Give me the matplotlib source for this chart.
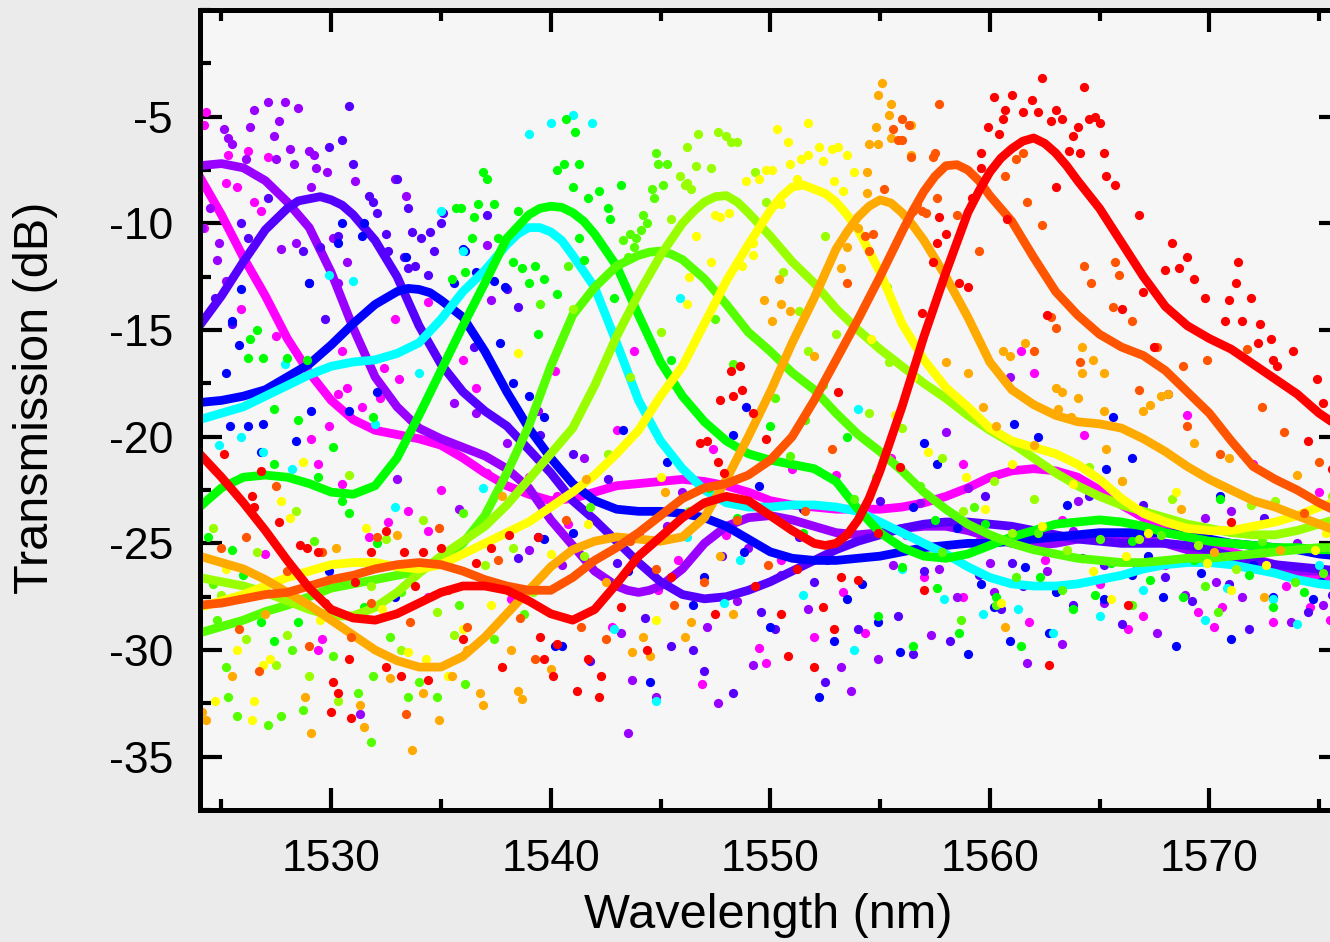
import numpy as np
import matplotlib
matplotlib.use('Agg')
import matplotlib.pyplot as plt
from matplotlib.ticker import MultipleLocator

plt.rcParams['font.family'] = ['Liberation Sans', 'DejaVu Sans']
plt.rcParams['axes.unicode_minus'] = False

# wavelength grid of the smoothed curves (nm)
wl = list(range(1524, 1577))

# smoothed transmission curves (dB), one value per nm
magenta = [-7.8, -9.6, -11.6, -13.4, -15.4, -17.0, -18.3, -19.2, -19.7, -19.9,
           -20.1, -20.4, -21.0, -21.7, -22.3, -22.7, -23.0, -22.9, -22.6, -22.3,
           -22.2, -22.1, -22.0, -22.1, -22.3, -22.6, -23.0, -23.2, -23.3, -23.4,
           -23.4, -23.4, -23.3, -23.1, -22.8, -22.4, -21.9, -21.6, -21.5, -21.6,
           -21.9, -22.5, -23.2, -23.8, -24.3, -24.7, -25.1, -25.4, -25.7, -26.0,
           -26.3, -26.6, -26.8]
violet = [-7.3, -7.2, -7.4, -8.0, -9.0, -10.2, -12.3, -14.9, -17.2, -18.6,
          -19.6, -20.1, -20.5, -20.9, -21.5, -22.4, -23.9, -25.1, -26.3, -27.0,
          -27.3, -27.0, -26.2, -25.0, -24.2, -23.8, -23.7, -23.9, -24.2, -24.5,
          -24.6, -24.5, -24.3, -24.2, -24.2, -24.4, -24.7, -25.0, -25.1, -25.0,
          -24.8, -24.7, -24.7, -24.8, -25.0, -25.3, -25.6, -25.9, -26.1, -26.2,
          -26.3, -26.3, -26.3]
indigo = [-14.8, -13.4, -11.8, -10.3, -9.3, -8.85, -8.9, -9.6, -10.8, -12.5,
          -14.8, -16.6, -17.9, -18.8, -19.5, -20.6, -21.7, -23.0, -23.9, -24.9,
          -25.9, -26.8, -27.4, -27.6, -27.5, -27.2, -26.8, -26.3, -25.8, -25.3,
          -24.9, -24.6, -24.3, -24.1, -24.0, -24.0, -24.1, -24.2, -24.4, -24.6,
          -24.8, -24.9, -25.0, -25.0, -25.0, -25.1, -25.3, -25.6, -25.8, -26.0,
          -26.1, -26.2, -26.3]
blue = [-18.4, -18.3, -18.1, -17.8, -17.2, -16.6, -15.7, -14.7, -13.8, -13.2,
        -13.1, -13.6, -14.4, -16.0, -17.9, -19.6, -21.0, -22.2, -23.0, -23.4,
        -23.5, -23.5, -23.6, -23.8, -24.2, -24.8, -25.4, -25.7, -25.8, -25.8,
        -25.7, -25.6, -25.4, -25.2, -25.1, -25.0, -25.0, -24.9, -24.8, -24.7,
        -24.6, -24.5, -24.5, -24.5, -24.5, -24.6, -24.8, -25.0, -25.1, -25.2,
        -25.3, -25.5, -25.6]
cyan = [-19.2, -18.9, -18.6, -18.1, -17.6, -17.1, -16.7, -16.5, -16.4, -16.1,
        -15.6, -14.5, -13.2, -12.2, -11.0, -10.2, -10.4, -11.5, -13.0, -15.6,
        -18.3, -20.2, -21.5, -22.5, -23.1, -23.3, -23.3, -23.2, -23.2, -23.3,
        -23.5, -24.0, -24.5, -25.0, -25.5, -26.1, -26.6, -26.9, -27.0, -27.0,
        -26.9, -26.7, -26.5, -26.2, -26.0, -25.9, -25.9, -26.0, -26.2, -26.4,
        -26.7, -26.9, -27.0]
green = [-23.3, -22.4, -21.9, -21.8, -21.9, -22.2, -22.6, -22.7, -22.3, -21.0,
         -19.0, -16.9, -14.8, -12.8, -10.7, -9.6, -9.2, -9.5, -10.5, -12.0,
         -14.3, -16.5, -18.1, -19.3, -20.2, -20.8, -21.1, -21.3, -21.5, -22.1,
         -23.4, -24.5, -25.2, -25.6, -25.7, -25.5, -25.1, -24.7, -24.4, -24.1,
         -24.0, -23.9, -24.0, -24.2, -24.5, -24.7, -24.9, -25.0, -25.1, -25.2,
         -25.2, -25.3, -25.3]
lime = [-29.2, -28.9, -28.6, -28.2, -27.9, -27.5, -27.1, -26.9, -26.7, -26.5,
        -26.3, -25.8, -25.0, -23.7, -21.7, -19.5, -16.7, -14.3, -13.0, -12.0,
        -11.5, -11.3, -11.7, -12.6, -13.8, -15.1, -16.0, -17.0, -17.8, -18.9,
        -19.9, -20.7, -21.6, -22.6, -23.4, -24.1, -24.6, -25.0, -25.3, -25.5,
        -25.7, -25.8, -25.9, -25.9, -25.8, -25.7, -25.7, -25.6, -25.5, -25.4,
        -25.3, -25.2, -25.2]
yellowgreen = [-26.6, -26.8, -27.0, -27.3, -27.7, -28.1, -28.4, -28.4, -28.0, -27.3,
               -26.4, -25.6, -24.9, -24.2, -23.2, -22.0, -20.8, -19.6, -17.6, -15.3,
               -13.3, -11.5, -10.0, -9.0, -8.7, -9.5, -10.6, -11.8, -12.8, -14.0,
               -15.0, -15.9, -16.7, -17.5, -18.2, -19.0, -19.7, -20.3, -21.0, -21.7,
               -22.3, -22.8, -23.2, -23.5, -23.8, -24.1, -24.3, -24.5, -24.6, -24.6,
               -24.4, -24.1, -23.8]
yellow = [-28.0, -27.7, -27.4, -27.0, -26.6, -26.3, -26.0, -25.9, -25.9, -26.1,
          -26.2, -26.0, -25.5, -25.0, -24.5, -24.0, -23.3, -22.6, -21.8, -20.8,
          -19.7, -18.1, -16.7, -14.7, -12.7, -11.0, -9.4, -8.3, -8.4, -9.0,
          -10.3, -12.3, -14.7, -16.4, -17.7, -18.6, -19.6, -20.2, -20.5, -20.8,
          -21.3, -22.0, -22.9, -23.6, -24.0, -24.3, -24.4, -24.4, -24.2, -24.0,
          -23.7, -23.3, -23.0]
orange = [-25.6, -25.9, -26.2, -26.7, -27.3, -27.9, -28.6, -29.3, -30.0, -30.5,
          -30.8, -30.8, -30.3, -29.4, -28.3, -27.2, -26.1, -25.3, -24.9, -24.7,
          -24.8, -24.9, -24.7, -23.8, -22.0, -20.0, -17.9, -15.6, -13.5, -11.2,
          -9.7, -8.9, -9.5, -10.8, -12.5, -14.4, -16.5, -17.8, -18.5, -19.0,
          -19.3, -19.4, -19.6, -20.1, -20.7, -21.4, -22.0, -22.5, -23.0, -23.3,
          -23.7, -24.1, -24.5]
darkorange = [-27.9, -27.8, -27.6, -27.4, -27.3, -27.0, -26.7, -26.5, -26.2, -26.0,
              -25.9, -26.0, -26.3, -26.7, -27.0, -27.2, -27.2, -26.6, -25.8, -25.2,
              -24.5, -23.7, -22.9, -22.4, -22.2, -21.8, -21.1, -20.0, -18.3, -16.4,
              -14.5, -12.5, -10.4, -8.5, -7.3, -7.5, -8.7, -9.9, -11.6, -13.2,
              -14.3, -15.2, -15.8, -16.2, -16.9, -17.9, -18.9, -20.2, -21.4, -22.0,
              -22.5, -23.1, -23.6]
red = [-20.8, -21.9, -23.1, -24.4, -25.8, -27.1, -28.1, -28.5, -28.6, -28.3,
       -27.8, -27.3, -27.0, -27.0, -27.2, -27.7, -28.3, -28.6, -28.1, -26.9,
       -25.6, -24.7, -23.8, -23.1, -22.8, -23.0, -23.7, -24.4, -25.0, -25.0,
       -23.9, -21.6, -18.6, -15.3, -12.3, -9.5, -7.6, -6.5, -6.0, -6.7,
       -8.0, -9.3, -10.9, -12.5, -13.9, -14.8, -15.4, -15.9, -16.6, -17.3,
       -18.0, -18.9, -19.6]

# extra half-nm readings around the peaks, where the curves bend fastest
magenta_fine = []
violet_fine = [(1543.5, -27.2), (1544.5, -27.2)]
indigo_fine = [(1528.5, -8.95), (1529.5, -8.75), (1530.5, -9.15)]
blue_fine = [(1533.5, -13.05), (1534.5, -13.25)]
cyan_fine = [(1538.5, -10.5), (1539.5, -10.2), (1540.5, -10.8)]
green_fine = [(1539.5, -9.3), (1540.5, -9.25), (1541.5, -9.9)]
lime_fine = [(1544.5, -11.35), (1545.5, -11.45)]
yellowgreen_fine = [(1546.5, -9.45), (1547.5, -8.75), (1548.5, -9.0)]
yellow_fine = [(1550.5, -8.75), (1551.5, -8.2), (1552.5, -8.6), (1553.5, -9.6)]
orange_fine = [(1553.5, -10.4), (1554.5, -9.2), (1555.5, -9.05), (1556.5, -10.1)]
darkorange_fine = [(1556.5, -9.4), (1557.5, -7.8), (1558.5, -7.25), (1559.5, -8.0), (1560.5, -9.3)]
red_fine = [(1552.5, -25.1), (1553.5, -24.6), (1554.5, -22.9), (1559.5, -8.5), (1560.5, -6.95),
            (1561.5, -6.15), (1562.5, -6.25), (1563.5, -7.3), (1564.5, -8.65)]

# raw measured points (wavelength nm, dB) that stand off the smoothed curves
magenta_pts = [(1524.3, -4.8), (1524.2, -5.4), (1525.3, -6.8), (1526.2, -6.6), (1527.1, -6.9),
               (1525.2, -8.1), (1525.7, -8.3), (1526.5, -9.0), (1526.8, -9.4), (1524.2, -10.2),
               (1525.9, -14.0), (1527.5, -15.3), (1532.9, -14.5), (1534.4, -13.7), (1530.5, -16.0),
               (1532.4, -16.8), (1533.1, -17.3), (1536.0, -16.4), (1536.6, -17.7), (1530.3, -18.0),
               (1530.7, -17.7), (1531.4, -18.6), (1532.2, -18.2), (1529.9, -19.5), (1529.1, -20.1),
               (1529.4, -21.3), (1530.5, -22.2), (1532.6, -24.0), (1531.7, -24.7), (1533.5, -23.5),
               (1534.4, -24.4), (1535.0, -22.5), (1537.1, -21.7), (1539.0, -21.9), (1540.2, -16.9),
               (1540.8, -24.1), (1543.8, -16.0), (1534.4, -27.5), (1529.6, -29.5), (1529.4, -30.0),
               (1543.0, -19.7), (1540.3, -22.8), (1547.4, -20.6), (1544.9, -27.2), (1542.8, -28.9),
               (1549.5, -29.9), (1552.0, -29.4), (1554.3, -29.2), (1553.3, -27.3), (1546.9, -31.6),
               (1549.8, -30.6), (1562.0, -17.0), (1561.4, -16.0), (1564.3, -19.9), (1558.8, -21.3),
               (1558.8, -27.5), (1561.8, -28.7), (1566.3, -29.0), (1567.0, -28.4), (1569.5, -28.2),
               (1570.6, -28.0), (1570.2, -28.9), (1572.9, -28.7), (1574.6, -28.0), (1569.0, -19.0),
               (1555.5, -21.0), (1551.0, -21.5), (1572.0, -21.3), (1575.0, -22.6), (1538.2, -27.6),
               (1545.8, -25.8), (1557.0, -26.6), (1556.2, -24.6), (1559.5, -24.9), (1562.5, -25.8),
               (1565.0, -26.9), (1568.0, -26.0), (1571.4, -25.9), (1573.5, -27.0), (1575.5, -28.6),
               (1548.0, -24.6), (1550.5, -25.8), (1544.0, -24.5), (1537.0, -24.0), (1527.0, -25.5),
               (1563.3, -23.9), (1553.0, -21.8)]
violet_pts = [(1527.1, -4.3), (1527.9, -4.3), (1526.5, -4.7), (1528.5, -4.6), (1526.3, -5.5),
              (1527.6, -5.2), (1525.1, -5.6), (1525.3, -6.0), (1525.5, -6.3), (1527.4, -5.9),
              (1528.1, -6.5), (1529.0, -6.6), (1529.2, -6.8), (1527.5, -7.0), (1528.3, -7.2),
              (1529.3, -7.4), (1529.8, -7.6), (1526.1, -7.0), (1529.1, -8.3), (1531.1, -8.0),
              (1524.5, -9.3), (1524.9, -10.9), (1524.8, -11.7), (1525.2, -12.7), (1527.7, -11.2),
              (1528.4, -10.9), (1529.5, -11.2), (1530.7, -11.8), (1530.3, -12.8), (1530.1, -10.7),
              (1537.1, -11.0), (1537.3, -13.6), (1533.4, -8.7), (1532.9, -7.9), (1524.1, -10.2),
              (1535.6, -18.4), (1536.6, -18.9), (1539.4, -18.8), (1538.0, -20.3), (1541.5, -21.0),
              (1543.2, -29.2), (1544.8, -32.2), (1547.1, -28.9), (1549.2, -30.7), (1551.7, -28.1),
              (1553.2, -30.8), (1553.7, -31.9), (1554.9, -30.4), (1557.3, -29.3), (1560.2, -27.3),
              (1561.7, -30.6), (1543.5, -33.9), (1543.7, -31.4), (1547.6, -32.5), (1560.9, -17.2),
              (1568.1, -18.0), (1558.0, -19.8), (1557.7, -26.2), (1567.6, -29.2), (1563.3, -29.7),
              (1573.7, -28.7), (1571.5, -27.5), (1565.2, -27.8), (1533.0, -22.0), (1546.0, -22.6),
              (1550.5, -26.5), (1555.6, -26.0), (1559.0, -22.4), (1564.0, -23.0), (1569.8, -23.8),
              (1575.2, -27.9), (1540.5, -26.0), (1531.3, -33.0), (1548.5, -27.7), (1556.8, -23.1),
              (1560.0, -25.9), (1562.6, -26.3), (1566.7, -26.1), (1568.9, -27.4), (1570.3, -26.8),
              (1574.0, -25.0), (1552.6, -25.8), (1549.0, -25.2), (1545.3, -24.2), (1539.0, -25.3),
              (1535.8, -23.4), (1558.5, -27.5), (1563.8, -24.4), (1571.0, -23.5)]
indigo_pts = [(1530.8, -4.5), (1529.9, -6.4), (1530.5, -6.1), (1530.3, -10.6), (1529.5, -11.1),
              (1528.7, -11.3), (1525.9, -10.0), (1526.2, -10.7), (1527.1, -8.8), (1531.0, -7.2),
              (1531.7, -8.7), (1531.9, -9.0), (1532.1, -9.5), (1533.0, -7.9), (1533.5, -9.3),
              (1532.5, -10.5), (1532.6, -11.3), (1533.3, -11.6), (1533.7, -10.4), (1534.1, -10.7),
              (1534.5, -10.4), (1535.0, -10.0), (1535.1, -9.5), (1534.7, -11.3), (1533.5, -12.1),
              (1533.8, -12.0), (1534.4, -12.4), (1529.0, -12.8), (1524.7, -13.5), (1525.5, -14.7),
              (1529.7, -14.5), (1537.1, -9.6), (1538.5, -13.9), (1538.0, -13.1), (1536.5, -15.8),
              (1539.5, -19.9), (1541.0, -20.8), (1542.6, -22.0), (1545.5, -29.8), (1547.0, -31.0),
              (1548.3, -32.0), (1550.2, -29.0), (1552.5, -31.5), (1555.8, -28.4), (1556.5, -30.2),
              (1558.2, -29.6), (1560.5, -28.1), (1563.8, -27.9), (1566.0, -28.8), (1569.2, -27.7),
              (1571.8, -29.0), (1574.5, -28.2), (1541.8, -30.5), (1538.5, -25.7), (1552.0, -26.8),
              (1559.5, -26.5), (1564.5, -22.8), (1567.0, -23.2), (1544.3, -28.5), (1549.6, -28.2),
              (1554.0, -29.0), (1561.5, -27.0), (1572.5, -23.8), (1546.5, -30.0), (1557.0, -26.3),
              (1561.0, -25.9), (1565.2, -26.0), (1568.0, -26.6), (1570.9, -26.9), (1573.3, -25.2),
              (1575.6, -27.4), (1551.3, -24.7), (1555.0, -23.0), (1559.8, -22.8), (1547.8, -25.6),
              (1543.0, -25.9)]
blue_pts = [(1530.5, -10.0), (1530.3, -10.9), (1531.4, -10.6), (1531.5, -10.0), (1533.4, -11.6),
            (1535.6, -12.8), (1536.0, -11.2), (1536.1, -11.3), (1529.0, -12.8), (1525.9, -13.1),
            (1525.5, -14.6), (1536.6, -12.3), (1537.4, -12.7), (1537.9, -13.0), (1525.2, -17.0),
            (1525.8, -15.7), (1525.4, -19.5), (1526.2, -19.5), (1526.9, -19.4), (1528.4, -20.2),
            (1526.8, -20.7), (1529.1, -18.8), (1530.8, -18.8), (1532.1, -17.9), (1537.7, -15.6),
            (1538.3, -17.5), (1539.7, -19.1), (1539.0, -18.1), (1539.4, -24.7), (1539.7, -24.8),
            (1529.9, -26.3), (1532.9, -27.5), (1540.2, -29.8), (1540.5, -29.8), (1543.3, -19.7),
            (1545.3, -21.2), (1548.3, -19.9), (1548.9, -18.6), (1549.5, -22.3), (1548.8, -25.4),
            (1550.0, -28.9), (1552.2, -32.2), (1552.9, -29.6), (1553.5, -27.6), (1554.9, -28.7),
            (1555.9, -30.1), (1557.0, -20.3), (1559.0, -30.2), (1560.9, -29.6), (1562.2, -20.0),
            (1561.1, -19.4), (1565.6, -19.1), (1565.3, -21.5), (1566.5, -21.0), (1557.6, -21.3),
            (1559.6, -26.9), (1560.2, -28.0), (1562.7, -29.2), (1565.2, -27.6), (1566.5, -26.5),
            (1567.9, -27.5), (1572.9, -27.5), (1574.7, -27.6), (1570.5, -22.8), (1563.5, -23.2),
            (1546.5, -27.9), (1541.0, -24.5), (1544.5, -31.5), (1571.0, -29.5), (1568.5, -29.8),
            (1556.5, -23.3), (1558.5, -24.3), (1561.6, -26.1), (1564.2, -25.7), (1567.2, -25.6),
            (1569.6, -26.4), (1572.0, -26.0), (1575.1, -26.8), (1551.5, -23.4), (1554.2, -26.9),
            (1547.0, -26.6), (1543.5, -26.3), (1563.0, -27.3)]
cyan_pts = [(1539.0, -5.8), (1540.0, -5.3), (1541.0, -4.9), (1541.9, -5.3), (1535.0, -9.4),
            (1536.0, -11.3), (1529.9, -12.4), (1531.0, -12.7), (1527.9, -16.6), (1525.9, -20.0),
            (1524.9, -20.4), (1526.9, -20.7), (1532.0, -19.4), (1532.9, -23.3), (1534.0, -17.0),
            (1536.9, -22.4), (1545.9, -13.5), (1554.0, -18.7), (1542.9, -29.0), (1544.8, -32.4),
            (1547.9, -27.8), (1553.8, -30.0), (1557.9, -27.6), (1562.9, -29.2), (1567.0, -27.2),
            (1572.9, -27.6), (1548.6, -25.8), (1569.8, -28.6), (1575.0, -26.0), (1559.7, -28.3),
            (1556.0, -26.2), (1561.3, -28.1), (1565.0, -28.4), (1570.8, -27.1), (1551.5, -27.4),
            (1546.2, -24.7), (1574.0, -28.8), (1533.8, -25.9), (1528.2, -21.5)]
green_pts = [(1540.7, -5.1), (1540.6, -7.2), (1540.3, -7.5), (1536.9, -7.6), (1537.1, -7.9),
             (1541.0, -8.3), (1535.7, -9.3), (1535.9, -9.3), (1536.7, -9.1), (1537.4, -9.1),
             (1536.5, -9.7), (1538.5, -9.4), (1536.4, -10.7), (1537.6, -10.7), (1538.3, -11.8),
             (1538.7, -12.1), (1539.0, -12.8), (1539.3, -12.0), (1539.7, -12.6), (1540.3, -13.3),
             (1536.1, -12.3), (1535.5, -12.6), (1539.4, -15.2), (1541.1, -5.7), (1541.3, -7.2),
             (1542.2, -8.5), (1541.7, -8.8), (1542.6, -9.3), (1542.7, -9.8), (1543.2, -8.2),
             (1541.3, -10.7), (1541.5, -11.7), (1542.9, -13.5), (1526.6, -15.0), (1526.3, -15.4),
             (1526.2, -16.3), (1526.9, -16.3), (1528.0, -16.3), (1528.9, -16.4), (1527.4, -18.7),
             (1528.5, -19.2), (1527.4, -21.3), (1529.4, -21.9), (1530.1, -20.5), (1531.9, -19.1),
             (1530.5, -23.0), (1530.8, -23.6), (1532.1, -25.0), (1524.4, -24.7), (1525.5, -25.3),
             (1526.8, -28.7), (1528.5, -28.7), (1527.4, -29.6), (1554.9, -28.4), (1556.5, -29.8),
             (1556.0, -26.1), (1557.6, -27.1), (1558.6, -29.2), (1561.4, -29.8), (1560.3, -27.5),
             (1563.8, -28.1), (1567.3, -26.7), (1568.8, -27.5), (1572.9, -28.0), (1545.5, -16.4),
             (1550.0, -19.5), (1553.5, -20.0), (1547.2, -22.4), (1565.5, -25.9), (1570.5, -22.9),
             (1557.5, -23.9), (1559.8, -24.1), (1562.3, -26.6), (1564.8, -27.4), (1566.5, -24.9),
             (1569.3, -25.8), (1571.8, -26.5), (1574.3, -27.3), (1575.7, -24.6), (1551.5, -24.5),
             (1548.5, -23.8), (1543.0, -26.8), (1534.8, -25.8), (1531.5, -28.0), (1526.0, -26.5)]
lime_pts = [(1544.8, -6.7), (1544.9, -7.2), (1545.3, -7.2), (1543.6, -10.5), (1543.9, -10.7),
            (1543.3, -10.8), (1543.8, -11.1), (1543.5, -11.6), (1544.2, -9.6), (1544.4, -10.0),
            (1544.1, -10.3), (1544.7, -8.8), (1545.1, -8.2), (1544.6, -8.4), (1539.5, -13.8),
            (1540.8, -12.0), (1547.5, -14.5), (1548.3, -16.6), (1550.2, -18.2), (1551.6, -19.2),
            (1552.4, -17.6), (1554.8, -21.9), (1556.8, -22.3), (1559.3, -23.3), (1524.6, -26.9),
            (1525.2, -30.8), (1525.3, -32.2), (1525.7, -33.1), (1527.1, -33.5), (1527.7, -33.1),
            (1528.7, -32.8), (1528.2, -30.0), (1530.1, -30.3), (1531.2, -32.0), (1531.8, -34.3),
            (1531.9, -31.2), (1533.5, -32.2), (1534.8, -32.2), (1537.4, -29.5), (1536.1, -31.6),
            (1534.0, -31.5), (1532.7, -29.4), (1529.2, -24.9), (1535.8, -27.9), (1561.2, -26.6),
            (1563.3, -27.2), (1566.5, -27.9), (1569.8, -27.0), (1573.9, -26.8), (1558.7, -28.6),
            (1536.0, -23.6), (1557.8, -25.4), (1560.3, -27.9), (1562.2, -24.5), (1565.0, -24.8),
            (1567.8, -24.6), (1570.4, -28.2), (1572.4, -24.9), (1575.2, -26.4), (1553.8, -22.9),
            (1550.9, -20.9), (1546.3, -23.5), (1541.8, -23.3), (1538.8, -28.3), (1533.2, -27.3),
            (1527.6, -27.2), (1524.8, -28.6)]
yellowgreen_pts = [(1546.7, -5.8), (1547.6, -5.7), (1548.0, -5.9), (1548.2, -6.2), (1548.5, -6.2),
                   (1547.3, -7.4), (1546.1, -8.2), (1546.2, -6.4), (1545.9, -7.8), (1546.6, -7.3),
                   (1546.2, -8.1), (1546.4, -8.4), (1549.3, -7.6), (1545.5, -9.8), (1549.8, -9.0),
                   (1550.6, -12.3), (1551.3, -14.1), (1553.0, -15.2), (1555.4, -16.5), (1556.0, -19.6),
                   (1557.8, -21.0), (1560.2, -22.1), (1562.0, -22.9), (1564.5, -21.4), (1566.8, -24.8),
                   (1568.3, -22.9), (1571.2, -26.2), (1524.6, -24.3), (1525.0, -27.4), (1526.6, -25.4),
                   (1528.4, -23.5), (1530.8, -21.8), (1532.5, -24.8), (1534.2, -23.9), (1526.1, -29.5),
                   (1527.5, -30.7), (1529.0, -31.2), (1530.3, -32.4), (1533.2, -30.0), (1535.6, -29.3),
                   (1537.0, -26.0), (1539.2, -27.3), (1541.5, -25.6), (1543.6, -17.2), (1541.0, -14.0),
                   (1552.5, -10.6), (1555.3, -13.0), (1573.0, -23.0), (1558.8, -23.5), (1561.0, -24.5),
                   (1563.5, -25.3), (1566.0, -22.1), (1569.5, -25.1), (1571.9, -23.2), (1574.7, -24.0),
                   (1575.6, -22.8), (1554.5, -18.9), (1551.7, -16.0), (1545.0, -15.1), (1542.6, -20.8),
                   (1538.3, -25.2), (1534.8, -28.2), (1531.8, -27.0), (1528.0, -29.3)]
yellow_pts = [(1550.3, -5.6), (1551.7, -5.3), (1550.8, -6.2), (1552.2, -6.4), (1552.8, -6.5),
              (1553.1, -6.4), (1553.5, -6.8), (1553.8, -7.6), (1551.4, -7.0), (1551.7, -6.8),
              (1552.4, -7.1), (1550.9, -7.2), (1550.1, -7.5), (1549.8, -7.5), (1549.5, -7.9),
              (1551.2, -7.9), (1552.9, -8.0), (1553.3, -8.5), (1548.9, -8.0), (1547.5, -9.6),
              (1547.7, -9.7), (1548.1, -9.5), (1549.2, -10.9), (1549.2, -11.5), (1547.3, -11.8),
              (1548.7, -12.0), (1546.3, -12.5), (1546.2, -13.8), (1546.6, -10.6), (1550.5, -9.1),
              (1525.7, -30.0), (1526.4, -33.3), (1526.9, -30.7), (1527.2, -30.4), (1524.7, -32.4),
              (1526.5, -32.4), (1528.7, -21.2), (1527.7, -23.0), (1528.1, -23.8), (1531.6, -24.3),
              (1533.5, -30.1), (1534.3, -30.4), (1535.3, -31.2), (1536.0, -29.0), (1544.8, -28.6),
              (1557.2, -20.7), (1558.9, -21.9), (1561.0, -21.3), (1563.8, -22.2), (1566.2, -25.6),
              (1568.5, -22.6), (1571.0, -27.2), (1574.8, -25.3), (1560.5, -27.8), (1565.5, -27.6),
              (1540.0, -25.5), (1555.7, -19.0), (1538.5, -16.1), (1559.8, -23.4), (1562.4, -24.2),
              (1564.7, -26.3), (1567.2, -24.5), (1569.9, -25.9), (1572.6, -26.0), (1575.3, -24.5),
              (1556.5, -17.2), (1554.6, -15.4), (1545.0, -21.9), (1541.7, -24.1), (1537.3, -27.9),
              (1532.3, -28.1), (1529.5, -28.6), (1525.2, -26.2)]
orange_pts = [(1555.1, -3.4), (1554.9, -4.0), (1555.5, -4.4), (1555.4, -4.9), (1554.8, -5.5),
              (1554.5, -6.3), (1554.9, -6.3), (1555.5, -6.0), (1556.4, -5.4), (1556.4, -6.8),
              (1554.4, -7.6), (1554.4, -8.6), (1554.0, -10.2), (1553.5, -11.1), (1553.2, -12.1),
              (1550.4, -12.6), (1549.7, -13.6), (1550.1, -14.6), (1550.5, -13.8), (1550.9, -14.1),
              (1561.6, -15.6), (1560.6, -16.0), (1560.9, -16.2), (1564.2, -15.8), (1564.7, -16.4),
              (1564.2, -17.0), (1565.2, -17.0), (1563.0, -17.7), (1563.3, -17.9), (1564.0, -18.2),
              (1563.1, -18.7), (1565.2, -18.8), (1567.0, -18.8), (1567.3, -18.5), (1567.8, -18.1),
              (1568.1, -18.0), (1563.7, -19.1), (1569.3, -20.3), (1570.9, -21.0), (1559.7, -18.6),
              (1560.3, -19.5), (1524.1, -32.9), (1524.3, -33.3), (1528.8, -32.2), (1529.1, -33.9),
              (1531.3, -32.6), (1531.5, -33.6), (1533.7, -34.7), (1534.9, -33.3), (1536.8, -32.0),
              (1536.9, -32.6), (1534.2, -32.0), (1535.5, -31.2), (1538.5, -31.9), (1538.7, -32.3),
              (1538.2, -30.0), (1543.7, -30.1), (1544.2, -29.4), (1544.5, -30.3), (1546.1, -29.4),
              (1546.4, -28.7), (1548.3, -28.3), (1560.7, -28.9), (1572.5, -27.5), (1530.2, -25.2),
              (1533.0, -24.6), (1537.8, -22.8), (1541.6, -22.0), (1545.2, -22.6), (1566.0, -22.1),
              (1574.0, -21.8), (1558.0, -16.5), (1559.0, -17.0), (1562.0, -20.4), (1565.3, -20.6),
              (1568.7, -23.4), (1570.2, -25.4), (1573.2, -25.3), (1575.8, -22.7), (1552.0, -16.2),
              (1547.7, -25.6), (1542.5, -26.8), (1540.0, -30.9), (1536.2, -30.0), (1532.7, -31.3),
              (1527.0, -28.3), (1525.5, -31.2)]
darkorange_pts = [(1557.7, -4.4), (1556.0, -5.1), (1556.3, -5.4), (1555.6, -5.6), (1555.8, -6.1),
                  (1556.0, -6.1), (1556.4, -6.9), (1557.5, -6.7), (1557.4, -6.9), (1555.2, -8.4),
                  (1556.7, -9.1), (1556.5, -9.4), (1556.9, -9.4), (1557.1, -9.5), (1557.6, -8.8),
                  (1554.3, -10.6), (1554.7, -10.5), (1554.5, -11.3), (1553.5, -12.8), (1561.2, -7.0),
                  (1561.5, -6.7), (1560.7, -7.8), (1561.7, -9.0), (1562.4, -10.1), (1564.3, -12.0),
                  (1564.6, -12.8), (1565.7, -11.8), (1565.9, -12.4), (1565.6, -13.9), (1566.5, -14.6),
                  (1562.8, -14.4), (1563.0, -14.9), (1564.1, -16.5), (1567.6, -15.8), (1568.8, -16.7),
                  (1569.9, -16.4), (1571.7, -15.9), (1573.4, -19.8), (1575.0, -21.2), (1525.0, -25.2),
                  (1526.1, -24.7), (1528.0, -26.3), (1529.6, -25.4), (1530.9, -29.4), (1532.1, -24.7),
                  (1533.6, -28.7), (1534.9, -24.3), (1536.2, -28.9), (1537.6, -25.8), (1539.3, -30.4),
                  (1540.7, -23.9), (1542.5, -29.5), (1543.6, -24.9), (1545.6, -27.9), (1547.0, -26.8),
                  (1549.9, -26.0), (1551.6, -23.5), (1526.7, -31.0), (1533.4, -33.0), (1527.5, -22.3),
                  (1562.0, -16.0), (1566.8, -17.8), (1569.0, -19.5), (1570.5, -20.8), (1572.4, -18.6),
                  (1574.3, -23.6), (1559.5, -11.3), (1558.5, -9.6), (1552.8, -20.6), (1548.5, -23.9),
                  (1544.8, -26.2), (1541.4, -28.9), (1538.6, -28.5), (1535.3, -27.2), (1531.8, -27.8),
                  (1529.0, -29.8), (1525.8, -29.0)]
red_pts = [(1562.4, -3.2), (1564.3, -3.6), (1561.0, -4.0), (1561.9, -4.2), (1561.5, -4.8),
           (1562.2, -4.8), (1563.0, -4.7), (1562.8, -5.2), (1563.3, -5.1), (1564.5, -5.1),
           (1564.8, -5.0), (1565.0, -5.3), (1564.0, -5.5), (1563.8, -5.9), (1563.6, -6.6),
           (1564.1, -6.7), (1565.2, -6.7), (1565.3, -7.8), (1565.7, -8.2), (1568.3, -10.9),
           (1568.0, -12.2), (1568.6, -12.1), (1569.0, -11.6), (1569.3, -12.6), (1571.3, -11.8),
           (1571.2, -12.8), (1570.9, -13.6), (1571.9, -13.5), (1570.7, -14.6), (1571.5, -14.6),
           (1572.3, -14.7), (1572.2, -15.6), (1572.8, -15.4), (1572.9, -16.4), (1573.1, -16.7),
           (1574.9, -17.3), (1575.2, -18.4), (1567.5, -15.8), (1566.0, -14.0), (1560.2, -4.1),
           (1560.7, -4.7), (1560.6, -5.1), (1559.9, -5.5), (1560.4, -5.8), (1559.6, -6.7),
           (1559.6, -7.4), (1559.2, -8.8), (1557.7, -9.7), (1558.0, -10.5), (1557.6, -10.9),
           (1557.4, -11.8), (1558.6, -12.8), (1559.0, -13.0), (1556.9, -14.2), (1562.6, -14.3),
           (1525.1, -20.8), (1526.8, -21.6), (1526.4, -22.8), (1526.5, -23.3), (1528.6, -25.1),
           (1528.9, -25.2), (1529.4, -25.4), (1529.7, -27.8), (1530.8, -30.4), (1530.1, -31.5),
           (1530.3, -32.0), (1530.0, -32.9), (1530.9, -33.2), (1532.5, -30.8), (1533.2, -31.2),
           (1534.4, -31.4), (1531.1, -26.8), (1531.8, -25.4), (1533.3, -25.4), (1532.5, -24.4),
           (1534.2, -25.4), (1535.0, -25.2), (1536.6, -25.9), (1537.3, -25.2), (1538.1, -24.6),
           (1539.4, -24.7), (1539.5, -29.4), (1540.3, -29.7), (1541.7, -30.4), (1542.3, -31.2),
           (1542.2, -32.2), (1540.1, -31.2), (1539.7, -30.4), (1541.2, -31.9), (1544.4, -30.0),
           (1547.5, -28.3), (1550.5, -28.3), (1550.8, -30.3), (1552.0, -30.8), (1552.4, -28.0),
           (1552.9, -29.0), (1554.0, -26.7), (1553.2, -26.6), (1554.9, -24.5), (1548.2, -16.9),
           (1548.6, -16.7), (1547.7, -18.3), (1548.3, -18.1), (1548.7, -17.8), (1549.2, -18.9),
           (1546.8, -20.3), (1547.1, -20.2), (1547.6, -21.2), (1547.9, -21.7), (1549.8, -20.1),
           (1553.1, -17.9), (1555.9, -21.4), (1571.0, -24.0), (1566.3, -27.9), (1562.7, -30.7),
           (1566.8, -9.6), (1567.0, -13.2), (1569.8, -13.5), (1573.8, -16.0), (1574.5, -20.2),
           (1575.6, -21.5), (1563.0, -8.3), (1560.8, -9.8), (1543.2, -28.0), (1545.5, -26.6),
           (1549.3, -27.0), (1551.2, -26.2), (1536.0, -29.5), (1537.8, -30.8), (1527.6, -24.0),
           (1533.8, -27.0), (1557.0, -27.2)]

curves = [magenta, violet, indigo, blue, cyan, green, lime, yellowgreen, yellow, orange, darkorange, red]
fines = [magenta_fine, violet_fine, indigo_fine, blue_fine, cyan_fine, green_fine, lime_fine,
         yellowgreen_fine, yellow_fine, orange_fine, darkorange_fine, red_fine]
points = [magenta_pts, violet_pts, indigo_pts, blue_pts, cyan_pts, green_pts, lime_pts,
          yellowgreen_pts, yellow_pts, orange_pts, darkorange_pts, red_pts]
colors = ['#ff00ff', '#9900ff', '#5500ff', '#0000ff', '#00ffff', '#00ff00', '#55ff00',
          '#99ff00', '#ffff00', '#ffaa00', '#ff5500', '#ff0000']

fig = plt.figure(figsize=(13.3, 9.42), dpi=100, facecolor='#ebebeb')
ax = fig.add_axes([0.150, 0.1401, 0.8583, 0.8493])
ax.set_facecolor('#f6f6f6')

for i, (cv, fine, pts, c) in enumerate(zip(curves, fines, points, colors)):
    p = np.array(pts)
    ax.scatter(p[:, 0], p[:, 1], s=44, color=c, linewidths=0, zorder=2 + i * 0.02)
    line = np.array(sorted(list(zip(wl, cv)) + fine))
    ax.plot(line[:, 0], line[:, 1], color=c, lw=6.3, solid_capstyle='round',
            solid_joinstyle='round', zorder=2.01 + i * 0.02)

ax.set_xlim(1524, 1576)
ax.set_ylim(-37.5, 0)
ax.xaxis.set_major_locator(MultipleLocator(10))
ax.xaxis.set_minor_locator(MultipleLocator(5))
ax.set_yticks([-35, -30, -25, -20, -15, -10, -5])
ax.yaxis.set_minor_locator(MultipleLocator(2.5))

ax.tick_params(which='both', direction='in', top=True, right=True, width=3, colors='black')
ax.tick_params(which='major', length=16, labelsize=32)
ax.tick_params(axis='x', which='major', pad=21)
ax.tick_params(axis='y', which='major', pad=19)
ax.tick_params(which='minor', length=8)
for sp in ax.spines.values():
    sp.set_linewidth(3.6)

fig.text(0.578, 0.0149, 'Wavelength (nm)', fontsize=35, ha='center', va='baseline')
fig.text(0.027, 0.578, 'Transmission (dB)', fontsize=35, rotation=90, ha='center', va='center')

fig.savefig('out.png', dpi=100, facecolor=fig.get_facecolor())
